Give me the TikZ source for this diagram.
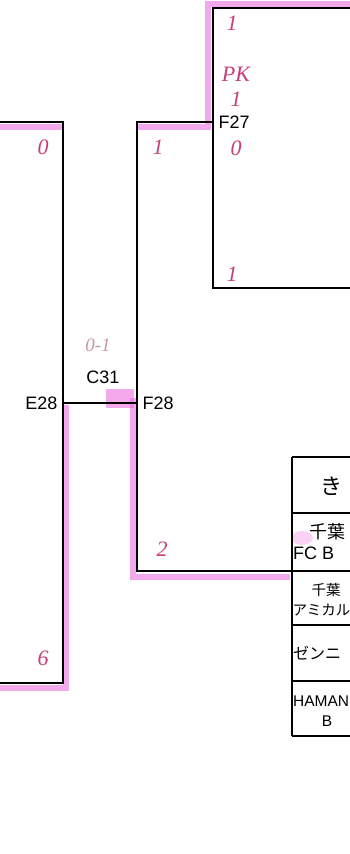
\documentclass[tikz,border=0pt]{standalone}
\usepackage{fontspec}
\setmainfont{Liberation Sans}
\newfontfamily\jp{Noto Sans CJK JP}
\newfontfamily\hand{Liberation Serif}
\definecolor{marker}{RGB}{236,110,224}
\definecolor{pen}{RGB}{200,62,122}
\definecolor{penlight}{RGB}{200,150,172}
\tikzset{
	bracket/.style={line width=2.2pt, black},
	hilite/.style={line width=6pt, marker, opacity=0.6},
	score/.style={text=pen, font=\hand\itshape\fontsize{22}{24}\selectfont},
	team/.style={font=\jp\fontsize{14.5}{17}\selectfont, inner sep=0pt}
}
\begin{document}
\begin{tikzpicture}[x=1pt, y=-1pt, font=\fontsize{18}{20}\selectfont]
	\useasboundingbox (0,0) rectangle (350,854);
	\fill[white] (0,0) rectangle (350,854);
	\begin{scope}
		\clip (0,0) rectangle (350,854);

		% highlighter marks
		\draw[hilite] (0,127) -- (62,127);
		\draw[hilite] (66,405) -- (66,688) -- (0,688);
		\draw[hilite] (137,127) -- (208,127) -- (208,4) -- (350,4);
		\draw[hilite] (133,398) -- (133,577) -- (290,577);
		\fill[marker, opacity=0.6] (106,389) rectangle (134,408);
		\fill[marker, opacity=0.3] (302,538) ellipse (11 and 7);

		% bracket corners
		\coordinate (L0) at (0,122);
		\coordinate (L1) at (63,122);
		\coordinate (L2) at (63,683);
		\coordinate (L3) at (0,683);
		\coordinate (M1) at (137,122);
		\coordinate (M2) at (137,571);
		\coordinate (M3) at (292,571);
		\coordinate (f27) at (213,122);
		\coordinate (e28) at (63,403);
		\coordinate (f28) at (137,403);
		\coordinate (B0) at (350,8);
		\coordinate (B1) at (213,8);
		\coordinate (B2) at (213,288);
		\coordinate (B3) at (350,288);

		\draw[bracket] (L0) -- (L1) -- (L2) -- (L3);
		\draw[bracket] (f27) -- (M1) -- (M2) -- (M3);
		\draw[bracket] (B0) -- (B1) -- (B2) -- (B3);
		\path (e28) edge[bracket] (f28);

		% team table
		\draw[bracket] (292,457) -- (292,736);
		\foreach \y in {457,513,571,625,681,736}
			\draw[bracket] (292,\y) -- (350,\y);

		\node (tk) at (331,486) {\jp\fontsize{22}{24}\selectfont き};
		\node[team, font=\jp\fontsize{18}{20}\selectfont] (t2a) at (327,532) {千葉};
		\node[anchor=west, inner sep=0pt] (t2b) at (293,553) {FC B};
		\node[team] (t3a) at (326,590) {千葉};
		\node[team, anchor=west] (t3b) at (292.5,610) {アミカル};
		\node[team, anchor=west, font=\jp\fontsize{16}{18}\selectfont] (t4) at (293,653) {ゼンニ};
		\node[anchor=west, inner sep=0pt, font=\fontsize{15.5}{17}\selectfont] (t5a) at (293,701) {HAMAN};
		\node[inner sep=0pt, font=\fontsize{15.5}{17}\selectfont] (t5b) at (327,721) {B};

		% match labels
		\node[anchor=east] (le28) at (61,403) {E28};
		\node[anchor=west] (lf28) at (139,403) {F28};
		\node[anchor=west] (lf27) at (215,122) {F27};
		\node (lc31) at (103,377) {C31};

		% handwritten scores
		\node[score] (s0) at (43,147) {0};
		\node[score] (s1) at (158,147) {1};
		\node[score] (s2) at (162,549) {2};
		\node[score] (s6) at (43,658) {6};
		\node[score] (k1) at (232,23) {1};
		\node[score] (pk) at (236,74) {PK};
		\node[score] (k2) at (236,99) {1};
		\node[score] (k3) at (236,148) {0};
		\node[score] (k4) at (232,274) {1};
		\node[score, text=penlight, font=\hand\itshape\fontsize{19}{21}\selectfont] (s01) at (98,345) {0-1};
	\end{scope}
\end{tikzpicture}
\end{document}
